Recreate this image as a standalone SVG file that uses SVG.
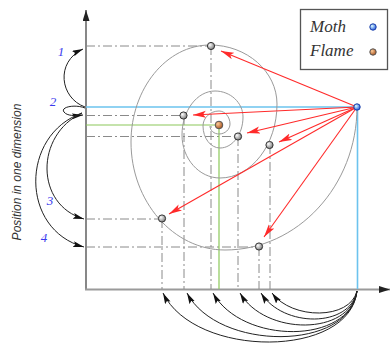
<svg xmlns="http://www.w3.org/2000/svg" width="390" height="345" viewBox="0 0 390 345">
<style>
.dd{stroke:#8a8a8a;stroke-width:1;fill:none;stroke-dasharray:9 3 2 3}
.grn{stroke:#8cc85a;stroke-width:1.2;fill:none}
.blu{stroke:#6cc3ee;stroke-width:1.6;fill:none}
.sp{stroke:#9a9a9a;stroke-width:1;fill:none}
.red{stroke:#ff2a2a;stroke-width:1.1;fill:none;marker-end:url(#ra)}
.blk{stroke:#222;stroke-width:1;fill:none;marker-end:url(#ba)}
.pt{fill:url(#gg);stroke:#333;stroke-width:1}
.num{font-family:"Liberation Serif",serif;font-style:italic;font-size:13px;fill:#3a3aee;text-anchor:middle}
.leg{font-family:"Liberation Serif",serif;font-style:italic;font-size:17px;fill:#333}
</style>
<defs>
<radialGradient id="gg" cx="35%" cy="35%" r="70%"><stop offset="0" stop-color="#fff"/><stop offset="1" stop-color="#777"/></radialGradient>
<radialGradient id="gb" cx="35%" cy="35%" r="70%"><stop offset="0" stop-color="#dff"/><stop offset="1" stop-color="#2255dd"/></radialGradient>
<radialGradient id="gf" cx="35%" cy="35%" r="70%"><stop offset="0" stop-color="#fc9"/><stop offset="1" stop-color="#a4501c"/></radialGradient>
<marker id="ra" markerUnits="userSpaceOnUse" markerWidth="14" markerHeight="8" refX="13" refY="3.5" orient="auto"><path d="M0,0 L13,3.5 L0,7 L3,3.5 z" fill="#ff2a2a"/></marker>
<marker id="ba" markerUnits="userSpaceOnUse" markerWidth="12" markerHeight="8" refX="11" refY="3" orient="auto"><path d="M0,0 L11,3 L0,6 L2,3 z" fill="#111"/></marker>
<marker id="ax" markerUnits="userSpaceOnUse" markerWidth="12" markerHeight="8" refX="11" refY="3.5" orient="auto"><path d="M0,0 L11,3.5 L0,7 z" fill="#222"/></marker>
</defs>

<g id="axes">
<line x1="86" y1="290" x2="86" y2="10" stroke="#6a6a6a" stroke-width="1.6" marker-end="url(#ax)"/>
<line x1="85" y1="289.5" x2="390" y2="289.5" stroke="#9a9a9a" stroke-width="2.2" marker-end="url(#ax)"/>
</g>

<g id="guides">
<path class="dd" d="M86,46 H211 M86,115.5 H183 M86,136.5 H238 M86,219 H162 M86,247 H259"/>
<path class="dd" d="M211,46 V289 M184,116 V289 M238,137 V289 M270,145 V289 M162,219 V289 M259,247 V289"/>
<path class="grn" d="M86,125 H219 V289"/>
<path class="blu" d="M86,107 H357.5 V289"/>
</g>

<g id="spiral">
<path class="sp" d="M357,107 C357,185.7 297.6,250 225,250 C173.3,250 131,201.4 131,142 C131,88.6 166.5,45 210,45 C246.9,45 277,71.6 277,104 C277,144.7 251.4,178 220,178 C199.1,178 182,158.7 182,135 C182,110.8 196.9,91 215,91 C230.4,91 243,102.7 243,117 C243,134 232.7,148 220,148 C210.6,148 203,138.1 203,126 C203,117.8 210.2,111 219,111 C225,111 230,116.9 230,124 C230,129.5 225,134 219,134 C214,134 210,130.4 210,126"/>
</g>

<g id="connectors">
<line class="red" x1="357" y1="107" x2="221" y2="51"/>
<line class="red" x1="357" y1="107" x2="193" y2="115"/>
<line class="red" x1="357" y1="107" x2="247" y2="133"/>
<line class="red" x1="357" y1="107" x2="279" y2="142"/>
<line class="red" x1="357" y1="107" x2="169" y2="214"/>
<line class="red" x1="357" y1="107" x2="264" y2="237"/>
<path class="blk" d="M85,107 C60,98 55,62 83,49"/>
<path class="blk" d="M85,108 C75,104 60,107 64,112 C67,116 75,116 83,115"/>
<path class="blk" d="M82,113 C35,135 35,205 84,219"/>
<path class="blk" d="M82,113 C20,135 20,230 84,247"/>
<path class="blk" d="M357,291 C350,358.7 195,358.7 163,293"/>
<path class="blk" d="M357,291 C350,351.5 218,351.5 187,293"/>
<path class="blk" d="M357,291 C350,344.8 242,344.8 213,293"/>
<path class="blk" d="M357,291 C350,336 265,336 240,293"/>
<path class="blk" d="M357,291 C350,328 283,328 261,293"/>
<path class="blk" d="M357,291 C350,320 292,320 272,293"/>
</g>

<g id="points">
<circle class="pt" cx="211" cy="46" r="3.6"/>
<circle class="pt" cx="183.5" cy="115.5" r="3.6"/>
<circle class="pt" cx="238" cy="136.5" r="3.6"/>
<circle class="pt" cx="269.5" cy="145" r="3.6"/>
<circle class="pt" cx="162" cy="218.5" r="3.6"/>
<circle class="pt" cx="259" cy="246.5" r="3.6"/>
</g>
<g id="flame"><circle cx="219" cy="125" r="3.8" fill="url(#gf)" stroke="#555" stroke-width="1"/></g>
<g id="moth"><circle cx="357" cy="107" r="3.2" fill="url(#gb)" stroke="#1a3fa8" stroke-width="1"/></g>

<g id="labels">
<text class="num" x="61" y="56">1</text>
<text class="num" x="53" y="106">2</text>
<text class="num" x="50" y="205">3</text>
<text class="num" x="44" y="242">4</text>
<text x="17" y="172" transform="rotate(-90 17 172)" text-anchor="middle" dominant-baseline="central" font-family="Liberation Sans, sans-serif" font-style="italic" font-size="12" fill="#333">Position in one dimension</text>
</g>

<g id="legend">
<rect x="300.5" y="9.5" width="87" height="60" fill="#fff" stroke="#555" stroke-width="1.3"/>
<text class="leg" x="310" y="32">Moth</text>
<text class="leg" x="310" y="56">Flame</text>
<circle cx="373" cy="27" r="3.2" fill="url(#gb)" stroke="#1a3fa8" stroke-width="1"/>
<circle cx="373" cy="52" r="3.2" fill="url(#gf)" stroke="#555" stroke-width="1"/>
</g>
</svg>
